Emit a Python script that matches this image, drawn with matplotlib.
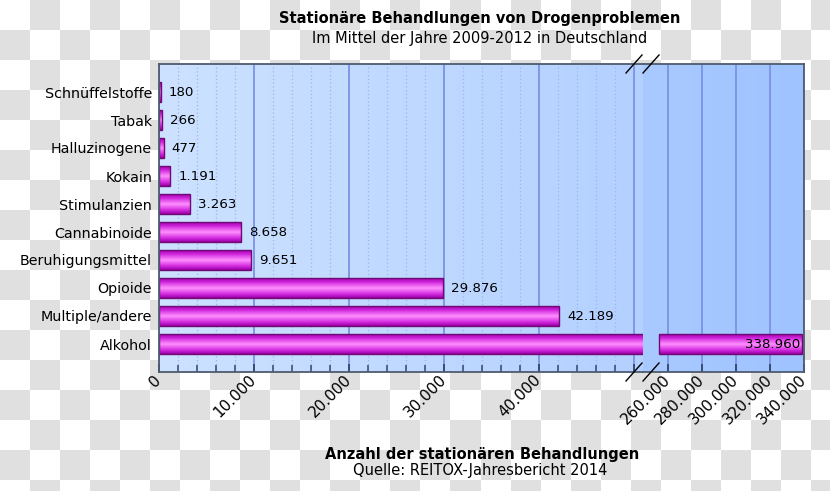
import numpy as np
import matplotlib
matplotlib.use("Agg")
import matplotlib.pyplot as plt
from matplotlib.colors import LinearSegmentedColormap
from matplotlib.lines import Line2D
from matplotlib.ticker import FuncFormatter, MultipleLocator

categories = ['Schnüffelstoffe', 'Tabak', 'Halluzinogene', 'Kokain', 'Stimulanzien',
              'Cannabinoide', 'Beruhigungsmittel', 'Opioide', 'Multiple/andere', 'Alkohol']
values = [180, 266, 477, 1191, 3263, 8658, 9651, 29876, 42189, 338960]
left_ticks = [0, 10000, 20000, 30000, 40000, 50000]
right_ticks = [260000, 280000, 300000, 320000, 340000]

title = 'Stationäre Behandlungen von Drogenproblemen'
subtitle = 'Im Mittel der Jahre 2009-2012 in Deutschland'
xlabel = 'Anzahl der stationären Behandlungen'
source = 'Quelle: REITOX-Jahresbericht 2014'

W, H = 830, 491
fig = plt.figure(figsize=(W / 100, H / 100), dpi=100)

# checkerboard behind everything (transparent png look)
bg = fig.add_axes([0, 0, 1, 1])
bg.set_zorder(-5)
nx, ny = W // 30 + 1, H // 30 + 1
chk = (np.add.outer(np.arange(ny), np.arange(nx)) % 2).astype(float)
bg.imshow(chk, cmap=LinearSegmentedColormap.from_list('c', ['#ffffff', '#e0e0e0']),
          extent=[0, nx * 30, ny * 30, 0], interpolation='nearest', aspect='auto')
bg.set_xlim(0, W)
bg.set_ylim(H, 0)
bg.axis('off')

def px(x0, y0, x1, y1):
    return [x0 / W, 1 - y1 / H, (x1 - x0) / W, (y1 - y0) / H]

ax1 = fig.add_axes(px(159, 64, 643, 372))
ax2 = fig.add_axes(px(643, 64, 804, 372))

bar_cmap = LinearSegmentedColormap.from_list(
    'bar', [(0, '#a400b0'), (0.2, '#d028dc'), (0.5, '#ff90ff'), (0.8, '#d42ce0'), (1, '#9c00a8')])
grad = np.linspace(0, 1, 64).reshape(-1, 1)
h = 0.7
ypos = np.arange(len(categories))
frame_col = '#4e5b6e'

def setup(ax, c0, c1):
    ax.set_facecolor('none')
    bgc = LinearSegmentedColormap.from_list('bg', [c0, c1])
    ax.imshow(np.linspace(0, 1, 256).reshape(1, -1), cmap=bgc, extent=[0, 1, 0, 1],
              transform=ax.transAxes, aspect='auto', zorder=0)
    ax.set_axisbelow(True)
    for s in ax.spines.values():
        s.set_color(frame_col)
        s.set_linewidth(1.3)
        s.set_zorder(5)

setup(ax1, '#cde2ff', '#b3d0ff')
setup(ax2, '#a9caff', '#9fc3ff')
ax1.spines['right'].set_visible(False)
ax2.spines['left'].set_visible(False)

def draw_bars(ax, start):
    for i, v in enumerate(values):
        x0 = start if v > 100000 else 0
        if start > 0 and v < 100000:
            continue
        ax.imshow(grad, cmap=bar_cmap, extent=[x0, v, i + h / 2, i - h / 2],
                  aspect='auto', interpolation='bilinear', zorder=2)
    sel = [v if (start == 0 or v > 100000) else 0 for v in values]
    lefts = [start if v > 100000 else 0 for v in values]
    widths = [s - l if s > 0 else 0 for s, l in zip(sel, lefts)]
    ax.barh(ypos, widths, left=lefts, height=h, facecolor='none',
            edgecolor='#6e0a72', linewidth=1.0, zorder=3)

draw_bars(ax1, 0)
draw_bars(ax2, 255000)

de = lambda x, p=None: f'{int(x):,}'.replace(',', '.')

for ax, xlim, ticks in [(ax1, (0, 51000), left_ticks), (ax2, (245300, 340000), right_ticks)]:
    ax.set_xlim(*xlim)
    ax.set_ylim(len(categories), -1)
    ax.set_xticks(ticks)
    ax.grid(axis='x', which='major', color='#7b93e3', linewidth=1.3)
    ax.tick_params(axis='x', which='major', direction='in', length=6, width=1.3,
                   color='#34456a', labelsize=11, pad=4)
    ax.tick_params(axis='y', length=0)

ax1.xaxis.set_minor_locator(MultipleLocator(2000))
ax1.grid(axis='x', which='minor', color='#9db5ee', linewidth=0.9, linestyle=(0, (1, 2)))
ax1.tick_params(axis='x', which='minor', direction='in', length=5, width=1.1, color='#34456a')
ax1.xaxis.set_major_formatter(FuncFormatter(lambda x, p: '' if x == 50000 else de(x)))
ax2.xaxis.set_major_formatter(FuncFormatter(de))
for ax in (ax1, ax2):
    for lab in ax.get_xticklabels():
        lab.set_rotation(45)
        lab.set_ha('right')
        lab.set_va('center')
        lab.set_rotation_mode('anchor')

ax1.set_yticks(ypos)
ax1.set_yticklabels(categories, fontsize=10.3)
ax1.tick_params(axis='y', pad=5)
ax2.set_yticks([])

for i, v in enumerate(values):
    if v < 51000:
        ax1.annotate(de(v), (v, i), xytext=(6, 0), textcoords='offset points',
                     va='center', ha='left', fontsize=9.6, zorder=6)
    else:
        ax2.annotate(de(v), (v, i), xytext=(-1.5, 0), textcoords='offset points',
                     va='center', ha='right', fontsize=9.6, zorder=6)

# break marks
for xc in (634, 651):
    for yc in (64, 372):
        fig.add_artist(Line2D([(xc - 8) / W, (xc + 8) / W], [1 - (yc + 9) / H, 1 - (yc - 9) / H],
                              color='black', linewidth=1.0))

fig.text(480 / W, 1 - 19 / H, title, ha='center', va='center', fontsize=10.5, fontweight='bold')
fig.text(480 / W, 1 - 38 / H, subtitle, ha='center', va='center', fontsize=10.5)
fig.text(482 / W, 1 - 454 / H, xlabel, ha='center', va='center', fontsize=10.5, fontweight='bold')
fig.text(480 / W, 1 - 471 / H, source, ha='center', va='center', fontsize=10.5)

fig.savefig('out.png', dpi=100)
